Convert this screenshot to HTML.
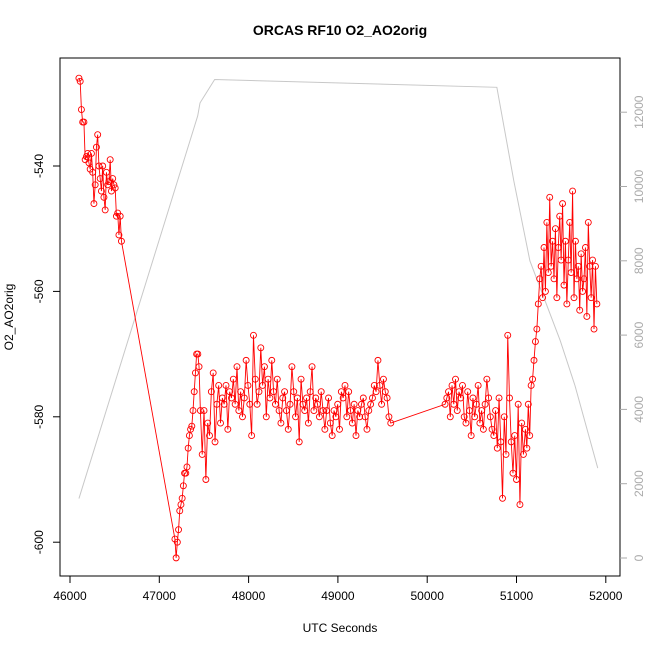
<!DOCTYPE html>
<html><head><meta charset="utf-8"><style>
body{margin:0;background:#fff;}
svg{display:block;font-family:"Liberation Sans",sans-serif;}
</style></head><body>
<svg id="chart" width="650" height="650" viewBox="0 0 650 650">
<text x="340" y="35" text-anchor="middle" font-size="14" font-weight="bold">ORCAS RF10 O2_AO2orig</text>
<rect x="60" y="58" width="560" height="518" fill="none" stroke="#000" stroke-width="1"/>
<text x="340" y="632" text-anchor="middle" font-size="12">UTC Seconds</text>
<text transform="translate(13,317) rotate(-90)" text-anchor="middle" font-size="12">O2_AO2orig</text>
<g id="xaxis"></g>
<g id="yaxis"></g>
<g id="y2axis"></g>
<g id="alt"></g>
<g id="o2"></g>
</svg>
<script>
const xTicks=[46000,47000,48000,49000,50000,51000,52000];
const yTicks=[-540,-560,-580,-600];
const y2Ticks=[0,2000,4000,6000,8000,10000,12000];
const altTime=[46100,47430,47456,47620,50780,50970,51150,51490,51655,51910];
const altValue=[1600,11900,12250,12880,12670,10150,8000,5850,4640,2420];
const seg1=[-526,-526.5,-531,-533,-533,-539,-538.5,-538,-539.5,-540.5,-538,-541,-546,-543,-537,-535,-540,-542,-544,-540,-545,-547,-541,-543,-542.5,-539,-544,-542,-543,-543.5,-548,-547.5,-551,-548,-552];
const seg2=[-599.5,-602.5,-600,-598,-595,-594,-593,-591,-589,-589,-588,-585,-583,-582,-581.5,-579,-576,-573,-570,-570,-572];
const seg3=[-579,-586,-579,-590,-581,-583,-576,-573,-584,-578,-575,-581,-577,-578,-575,-582,-576,-577,-574,-578,-572,-579,-576,-580,-577,-571,-575,-578,-583,-567,-574,-578,-576,-569,-575,-572,-580,-574,-577,-571,-576,-578,-574,-579,-581,-577,-576,-579,-582,-578,-572,-576,-580,-577,-584,-574,-578,-579,-577,-581,-576,-572,-579,-577,-578,-580,-576,-579,-582,-579,-577,-581,-583,-579,-580,-578,-582,-576,-577,-575,-580,-576,-579,-581,-578,-583,-579,-580,-578,-577,-580,-582,-579,-578,-577,-575,-576,-571,-575,-578,-574,-576,-577,-580,-581];
const seg4=[-578,-577,-576,-580,-575,-578,-574,-579,-576,-577,-575,-580,-581,-576,-579,-583,-577,-580,-578,-575,-581,-579,-582,-578,-574,-577,-580,-582,-583,-579,-585,-577,-584,-593,-580,-586,-567,-577,-584,-589,-583,-590,-578,-594,-581,-586];
const seg5=[-582,-585,-578,-583,-575,-574,-571,-568,-566,-562,-558,-556,-561,-553,-560,-549,-557,-545,-556,-552,-558,-550,-561,-553,-548,-555,-546,-559,-552,-562,-555,-549,-557,-544,-561,-552,-558,-556,-563,-554,-560,-558,-553,-564,-549,-556,-561,-555,-566,-556,-562];
const seg1T=seg1.map((v,i)=>46100+i*14);
const seg2T=seg2.map((v,i)=>47175+i*13.5);
const seg3T=seg3.map((v,i)=>47460+i*20.5);
const seg4T=seg4.map((v,i)=>50200+i*19.5);
const seg5T=seg5.map((v,i)=>51100+i*16);
const NS='http://www.w3.org/2000/svg';
const sx=t=>70+(t-46000)*0.0893;
const sy=v=>166+(-540-v)*6.27;
const sy2=a=>558-a*0.03715;
function mk(tag,attrs,parent){const e=document.createElementNS(NS,tag);for(const k in attrs)e.setAttribute(k,attrs[k]);parent.appendChild(e);return e;}
const xa=document.getElementById('xaxis');
mk('line',{x1:sx(46000),x2:sx(52000),y1:576,y2:576,stroke:'#000'},xa);
xTicks.forEach(t=>{const l=mk('line',{x1:sx(t),x2:sx(t),y1:576,y2:583,stroke:'#000'},xa);


const tx=mk('text',{x:sx(t),y:600,'text-anchor':'middle','font-size':12},xa);tx.textContent=t;

});
const ya=document.getElementById('yaxis');
yTicks.forEach(v=>{const l=mk('line',{x1:53,x2:60,y1:sy(v),y2:sy(v),stroke:'#000'},ya);


const tx=mk('text',{transform:`translate(43,${sy(v)}) rotate(-90)`,'text-anchor':'middle','font-size':12},ya);tx.textContent=v;

});
const y2=document.getElementById('y2axis');
y2Ticks.forEach(a=>{const l=mk('line',{x1:620,x2:627,y1:sy2(a),y2:sy2(a),stroke:'#aaa'},y2);


const tx=mk('text',{transform:`translate(643,${sy2(a)}) rotate(-90)`,'text-anchor':'middle','font-size':12,fill:'#aaa'},y2);tx.textContent=a;

});
const alt=document.getElementById('alt');
const ap=mk('polyline',{points:altTime.map((t,i)=>sx(t)+','+sy2(altValue[i])).join(' '),fill:'none',stroke:'#c8c8c8','stroke-width':1},alt);


const T=[].concat(seg1T,seg2T,seg3T,seg4T,seg5T);
const V=[].concat(seg1,seg2,seg3,seg4,seg5);
const o2=document.getElementById('o2');
const lp=mk('polyline',{points:T.map((t,i)=>sx(t)+','+sy(V[i])).join(' '),fill:'none',stroke:'#ff0000','stroke-width':0.9},o2);


T.forEach((t,i)=>{const c=mk('circle',{cx:sx(t),cy:sy(V[i]),r:3,fill:'none',stroke:'#ff0000','stroke-width':0.9},o2);

});
</script>
</body></html>
